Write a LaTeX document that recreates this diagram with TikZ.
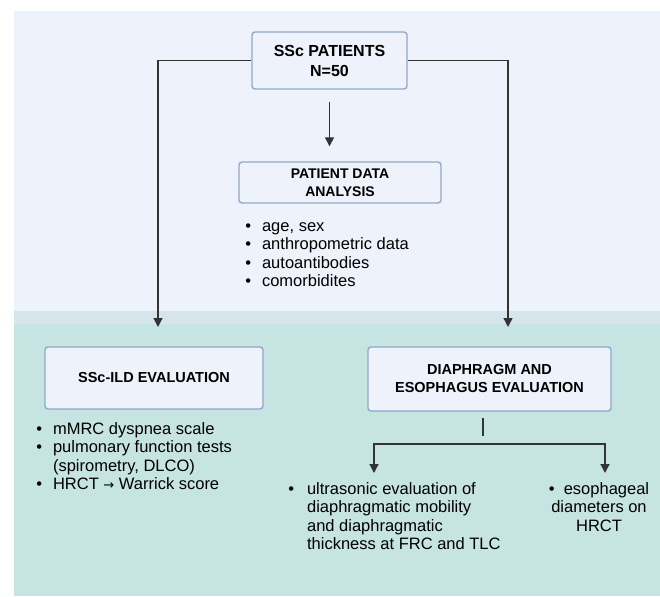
\documentclass[tikz,border=0pt]{standalone}
\usepackage{fontspec}
\setmainfont{Liberation Sans}
\newfontfamily\arrowfont{DejaVu Sans}
\usetikzlibrary{arrows.meta}

\begin{document}
\begin{tikzpicture}[x=1pt,y=-1pt,
  box/.style={draw=boxline,fill=boxfill,line width=1.4pt,rounded corners=3pt,
    align=center,inner sep=0pt,font=\bfseries\fontsize{14.5}{18}\selectfont},
  conn/.style={draw=ink,line width=1.3pt},
  arr/.style={conn,-{Triangle[width=9pt,length=9pt]}},
  items/.style={inner sep=0pt,anchor=base west,font=\fontsize{16.5}{18.5}\selectfont}]
 \definecolor{bgtop}{RGB}{238,242,251}
 \definecolor{bgband}{RGB}{214,229,236}
 \definecolor{bgteal}{RGB}{198,228,226}
 \definecolor{boxline}{RGB}{147,167,201}
 \definecolor{boxfill}{RGB}{238,242,251}
 \definecolor{ink}{RGB}{51,51,51}
 \useasboundingbox (0,0) rectangle (660,596);
 % backdrop
 \path[fill=bgtop] (14,11) rectangle (660,311);
 \path[fill=bgband] (14,311) rectangle (660,324);
 \path[fill=bgteal] (14,324) rectangle (660,596);
 % boxes
 \node[box,minimum width=155pt,minimum height=57pt,
   font=\bfseries\fontsize{16}{20}\selectfont] (ssc) at (329.5,60.5)
   {SSc PATIENTS\\N=50};
 \node[box,minimum width=202pt,minimum height=41pt,
   font=\bfseries\fontsize{14}{18}\selectfont] (pda) at (340,182.5)
   {PATIENT DATA\\ANALYSIS};
 \node[box,minimum width=218pt,minimum height=62pt] (ild) at (154,378)
   {SSc-ILD EVALUATION};
 \node[box,minimum width=243pt,minimum height=64pt] (dia) at (489.5,379)
   {DIAPHRAGM AND\\ESOPHAGUS EVALUATION};
 % bullet lists
 \node[items] (pdlist) at (245.1,231.3) {\begin{tabular}[t]{@{}l@{\hspace{11pt}}l@{}}
   \textbullet & age, sex\\
   \textbullet & anthropometric data\\
   \textbullet & autoantibodies\\
   \textbullet & comorbidites
 \end{tabular}};
 \node[items] (ildlist) at (36.1,434.3) {\begin{tabular}[t]{@{}l@{\hspace{11pt}}l@{}}
   \textbullet & mMRC dyspnea scale\\
   \textbullet & pulmonary function tests\\
               & (spirometry, DLCO)\\
   \textbullet & HRCT {\arrowfont\fontsize{13}{13}\selectfont\raisebox{0.5pt}{→}} Warrick score
 \end{tabular}};
 \node[items] (uslist) at (288.1,494.3) {\begin{tabular}[t]{@{}l@{\hspace{13pt}}l@{}}
   \textbullet & ultrasonic evaluation of\\
               & diaphragmatic mobility\\
               & and diaphragmatic\\
               & thickness at FRC and TLC
 \end{tabular}};
 \node[items,anchor=base] (esolist) at (599,494.3) {\begin{tabular}[t]{@{}c@{}}
   \textbullet\ \ esophageal\\
   diameters on\\
   HRCT
 \end{tabular}};
 % connectors
 \coordinate (ildin) at (158,327);
 \coordinate (diain) at (508,327);
 \draw[arr] (ssc.west) -| (ildin);
 \draw[arr] (ssc.east) -| (diain);
 \draw[arr,shorten <=12pt,shorten >=15pt] (ssc.south) -- (pda.north -| ssc.south);
 \coordinate (stemtop) at (483,418);
 \coordinate (stembot) at (483,436);
 \draw[conn] (stemtop) -- (stembot);
 \coordinate (usin) at (374,473);
 \coordinate (esoin) at (605,473);
 \draw[conn,{Triangle[width=9pt,length=9pt]}-{Triangle[width=9pt,length=9pt]}]
   (usin) -- ++(0,-29) -| (esoin);
\end{tikzpicture}
\end{document}
